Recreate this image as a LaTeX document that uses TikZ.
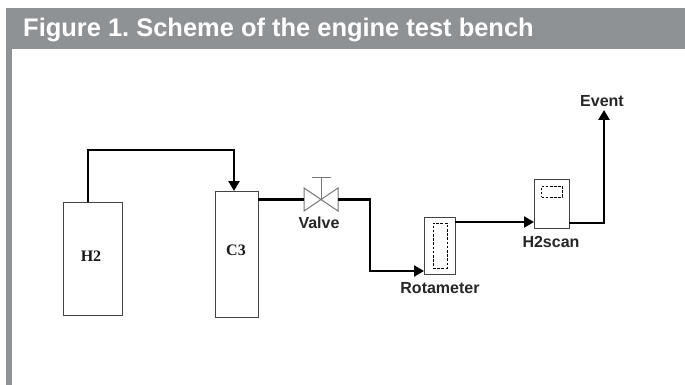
\documentclass[tikz,border=0pt]{standalone}
\usepackage{fontspec}
\setmainfont{Liberation Serif}
\setsansfont{Liberation Sans}
\usetikzlibrary{arrows.meta,calc}
\definecolor{band}{HTML}{8F9295}
\definecolor{linegray}{HTML}{444444}
\definecolor{valvegray}{HTML}{777777}
\tikzset{
  x=1pt,y=-1pt,
  box/.style={draw=linegray,line width=1pt,fill=white,inner sep=0pt,minimum width=#1},
  inset/.style={draw=black,line width=0.8pt,dash pattern=on 2.6pt off 1.6pt,fill=white,inner sep=0pt},
  pipe/.style={draw=black,line width=2.7pt,line join=miter},
  flow/.style={pipe,-{Triangle[length=10pt,width=11pt]}},
  vv/.style={draw=valvegray,line width=1pt,line join=miter},
  tag/.style={font=\sffamily\bfseries\fontsize{16pt}{18pt}\selectfont,text=black!85,inner sep=0pt},
  tank/.style={font=\rmfamily\bfseries\fontsize{16pt}{18pt}\selectfont,text=black!90,inner sep=0pt},
}
\begin{document}
\frenchspacing
\begin{tikzpicture}
\useasboundingbox (0,0) rectangle (685,385);
\fill[white] (0,0) rectangle (685,385);
\fill[band] (6,8) rectangle (685,49);
\fill[band] (6,49) rectangle (12,385);
\node[anchor=base west,inner sep=0pt,text=white,font=\sffamily\bfseries\fontsize{25.45pt}{28pt}\selectfont] (title) at (23,37) {Figure 1. Scheme of the engine test bench};

% vessels
\node[box=59pt,minimum height=113pt] (h2) at (92.5,258.5) {};
\node[box=43pt,minimum height=126pt] (c3) at (236.5,254) {};
\node[tank] (h2t) at (91,256) {H2};
\node[tank] (c3t) at (236,250) {C3};

% instruments
\node[box=31pt,minimum height=57pt] (rot) at (439.5,245.5) {};
\node[inset,minimum width=14pt,minimum height=45pt] (rotin) at (440,245.5) {};
\node[box=35pt,minimum height=49pt] (scan) at (551.5,203.5) {};
\node[inset,minimum width=21pt,minimum height=11pt] (scanin) at (552,191.5) {};

% valve
\coordinate (vc) at (321,199.5);
\coordinate (vl) at (304,199.5);
\coordinate (vr) at (338,199.5);
\draw[vv] (vc) -- (304,188) -- (304,211) -- cycle;
\draw[vv] (vc) -- (338,188) -- (338,211) -- cycle;
\draw[vv] (vc) -- (321,177);
\draw[vv] (312,177) -- (331,177);

% free ends / bends
\coordinate (h2out) at (88,202);
\coordinate (c3in) at (234,191);
\coordinate (c3out) at (258,199.5);
\coordinate (rotin0) at (424,271);
\coordinate (rotout) at (455,222);
\coordinate (scanin0) at (534,222);
\coordinate (scanout) at (569,223);
\coordinate (eventend) at (604,110);

% connectors
\draw[flow] (h2out) -- (88,150) -- (234,150) -- (c3in);
\draw[pipe] (c3out) -- (vl);
\draw[flow] (vr) -- (370,199.5) -- (370,271) -- (rotin0);
\draw[flow] (rotout) -- (scanin0);
\draw[flow] (scanout) -- (604,223) -- (eventend);

% labels
\node[tag] (event) at (602,101) {Event};
\node[tag] (valve) at (319,223) {Valve};
\node[tag] (rotl) at (440,288) {Rotameter};
\node[tag] (scanl) at (551,242) {H2scan};
\end{tikzpicture}
\end{document}
